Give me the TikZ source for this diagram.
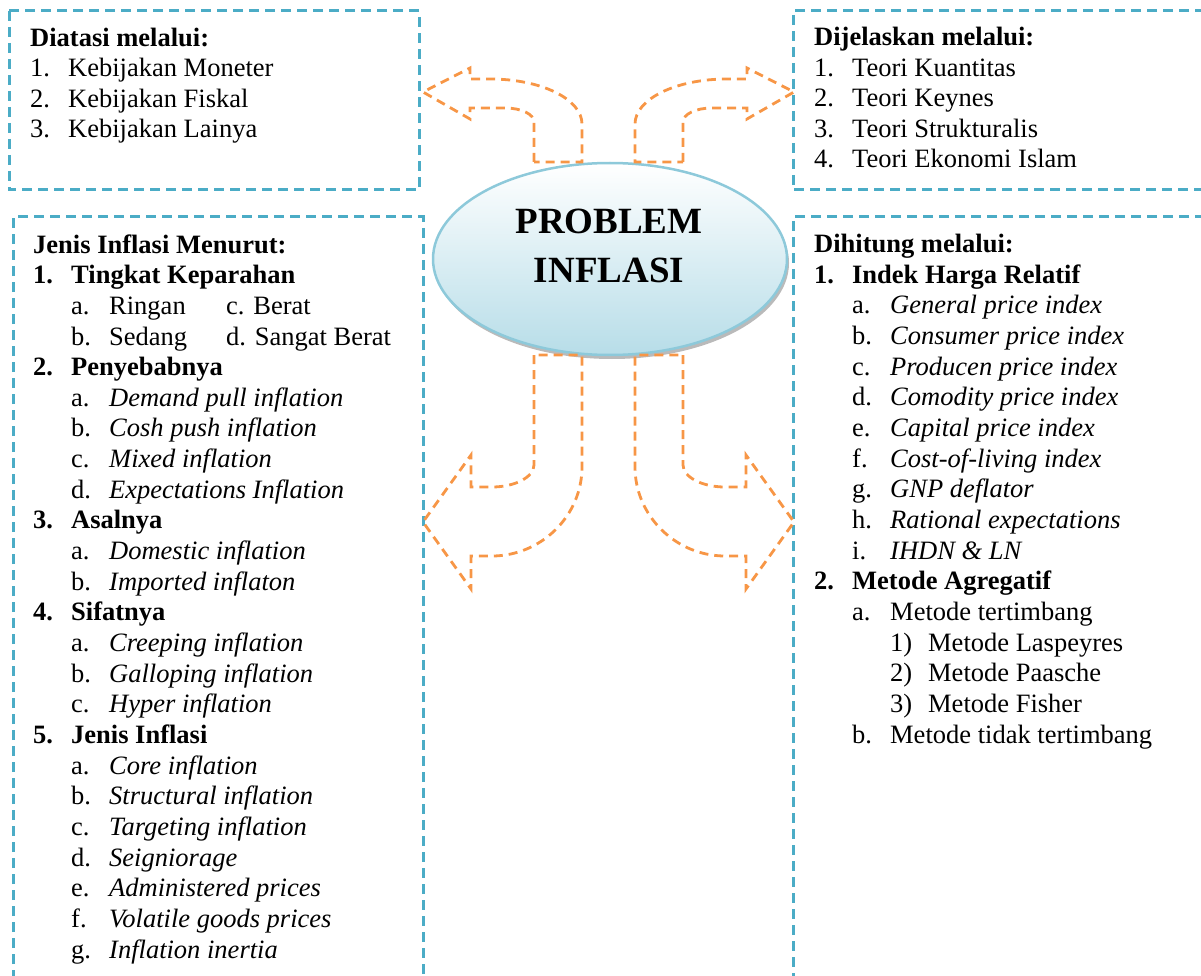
\documentclass[tikz,border=0pt]{standalone}
\usepackage{fontspec}
\setmainfont{Liberation Serif}
\usepackage{tikz}
\usetikzlibrary{shapes.geometric,shadows}

\definecolor{boxblue}{HTML}{4BACC6}
\definecolor{arrorange}{HTML}{F79646}
\definecolor{ellfill}{HTML}{B7DDE8}
\definecolor{ellrim}{HTML}{8DC9DA}

% item levels
\newcommand{\lvA}[2]{\makebox[38pt][l]{#1}#2}
\newcommand{\lvB}[2]{\hspace*{38pt}\makebox[38pt][l]{#1}#2}
\newcommand{\lvC}[2]{\hspace*{76pt}\makebox[38pt][l]{#1}#2}

% bent arrows
\newcommand{\toparrow}{%
  \draw[arrline] (534,162) -- (534,122) .. controls (534,114) and (521,108) .. (505,108)
    -- (470,108) -- (470,119) -- (423,92) -- (470,68) -- (470,79) -- (490,79)
    .. controls (541,79) and (582,99) .. (582,124) -- (582,162) -- cycle;}
\newcommand{\botarrow}{%
  \draw[arrline] (534,355) -- (534,465) .. controls (534,477) and (515,487) .. (492,487)
    -- (471,487) -- (471,455) -- (423,522) -- (471,589) -- (471,556) -- (492,556)
    .. controls (541,556) and (582,516) .. (582,467) -- (582,355) -- cycle;}

\tikzset{
  boxline/.style={boxblue, line width=3pt, dash pattern=on 10pt off 6pt},
  arrline/.style={arrorange, line width=2.8pt, dash pattern=on 9pt off 6pt},
  listtext/.style={anchor=base west, inner sep=0pt, align=left,
    font=\fontsize{26.5}{30.65}\selectfont},
  problem/.style={ellipse, minimum width=354pt, minimum height=192pt,
    draw=ellrim, line width=2.5pt, top color=white, bottom color=ellfill,
    drop shadow={shadow xshift=2pt, shadow yshift=-4pt, fill=black!45, opacity=0.6}},
  probtext/.style={anchor=base, align=center, inner sep=0pt,
    font=\bfseries\fontsize{37}{49}\selectfont},
}

\begin{document}
\begin{tikzpicture}[x=1pt,y=-1pt]
\useasboundingbox (0,0) rectangle (1201,976);

% kotak
\draw[boxline] (9,11) rectangle (419,190);
\draw[boxline] (13,980) -- (13,217) -- (423,217) -- (423,980);
\draw[boxline] (1205,11) -- (793,11) -- (793,190) -- (1205,190);
\draw[boxline] (1205,217) -- (793,217) -- (793,980);

% pusat
\node[problem] (prob) at (610,259) {};
\node[probtext] (probtxt) at (609,282) {PROBLEM\\INFLASI};

% panah
\toparrow
\botarrow
\begin{scope}[shift={(1217,0)}, xscale=-1]
  \toparrow
  \botarrow
\end{scope}

% isi kotak (anchor = baseline of last line)
\node[listtext] (diatasi) at (30,138) {\textbf{Diatasi melalui:}\\
  \lvA{1.}{Kebijakan Moneter}\\
  \lvA{2.}{Kebijakan Fiskal}\\
  \lvA{3.}{Kebijakan Lainya}};

\node[listtext] (dijelaskan) at (814,168) {\textbf{Dijelaskan melalui:}\\
  \lvA{1.}{Teori Kuantitas}\\
  \lvA{2.}{Teori Keynes}\\
  \lvA{3.}{Teori Strukturalis}\\
  \lvA{4.}{Teori Ekonomi Islam}};

\node[listtext] (jenis) at (33,958) {\textbf{Jenis Inflasi Menurut:}\\
  \textbf{\lvA{1.}{Tingkat Keparahan}}\\
  \lvB{a.}{\makebox[117pt][l]{Ringan}c. Berat}\\
  \lvB{b.}{\makebox[117pt][l]{Sedang}d. Sangat Berat}\\
  \textbf{\lvA{2.}{Penyebabnya}}\\
  \lvB{a.}{\textit{Demand pull inflation}}\\
  \lvB{b.}{\textit{Cosh push inflation}}\\
  \lvB{c.}{\textit{Mixed inflation}}\\
  \lvB{d.}{\textit{Expectations Inflation}}\\
  \textbf{\lvA{3.}{Asalnya}}\\
  \lvB{a.}{\textit{Domestic inflation}}\\
  \lvB{b.}{\textit{Imported inflaton}}\\
  \textbf{\lvA{4.}{Sifatnya}}\\
  \lvB{a.}{\textit{Creeping inflation}}\\
  \lvB{b.}{\textit{Galloping inflation}}\\
  \lvB{c.}{\textit{Hyper inflation}}\\
  \textbf{\lvA{5.}{Jenis Inflasi}}\\
  \lvB{a.}{\textit{Core inflation}}\\
  \lvB{b.}{\textit{Structural inflation}}\\
  \lvB{c.}{\textit{Targeting inflation}}\\
  \lvB{d.}{\textit{Seigniorage}}\\
  \lvB{e.}{\textit{Administered prices}}\\
  \lvB{f.}{\textit{Volatile goods prices}}\\
  \lvB{g.}{\textit{Inflation inertia}}};

\node[listtext] (dihitung) at (814,743) {\textbf{Dihitung melalui:}\\
  \textbf{\lvA{1.}{Indek Harga Relatif}}\\
  \lvB{a.}{\textit{General price index}}\\
  \lvB{b.}{\textit{Consumer price index}}\\
  \lvB{c.}{\textit{Producen price index}}\\
  \lvB{d.}{\textit{Comodity price index}}\\
  \lvB{e.}{\textit{Capital price index}}\\
  \lvB{f.}{\textit{Cost-of-living index}}\\
  \lvB{g.}{\textit{GNP deflator}}\\
  \lvB{h.}{\textit{Rational expectations}}\\
  \lvB{i.}{\textit{IHDN \& LN}}\\
  \textbf{\lvA{2.}{Metode Agregatif}}\\
  \lvB{a.}{Metode tertimbang}\\
  \lvC{1)}{Metode Laspeyres}\\
  \lvC{2)}{Metode Paasche}\\
  \lvC{3)}{Metode Fisher}\\
  \lvB{b.}{Metode tidak tertimbang}};
\end{tikzpicture}
\end{document}
